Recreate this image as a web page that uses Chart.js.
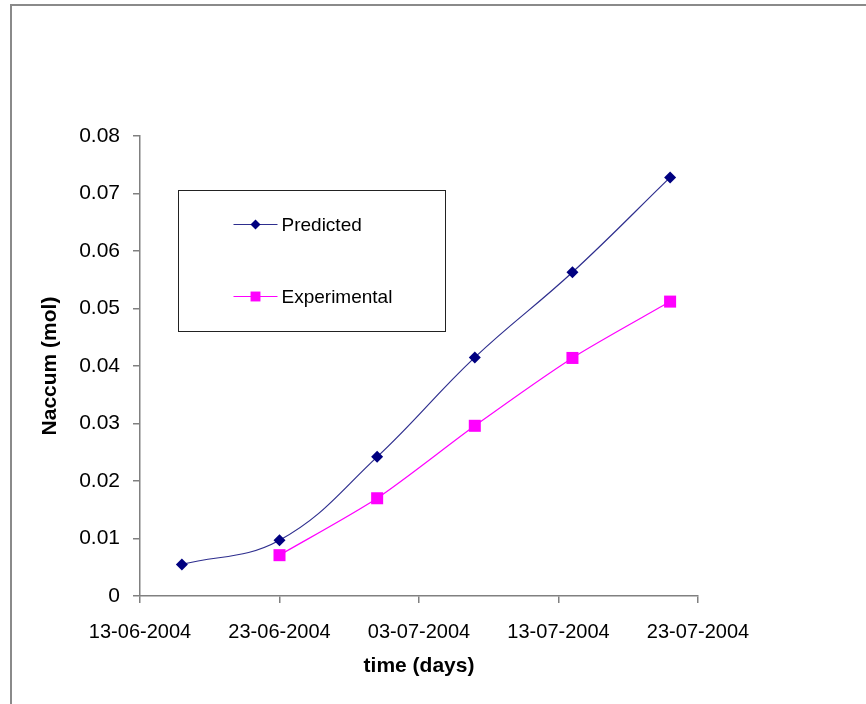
<!DOCTYPE html>
<html><head><meta charset="utf-8">
<script src="https://cdn.jsdelivr.net/npm/chart.js@4/dist/chart.umd.min.js"></script>
<style>html,body{margin:0;padding:0;background:#fff}#wrap{width:866px;height:704px;position:relative}</style>
</head><body><div id="wrap"><canvas id="c" width="866" height="704"></canvas></div>
<script>
const startDate = '2004-06-13';
const predictedDates = ['2004-06-16','2004-06-23','2004-06-30','2004-07-07','2004-07-14','2004-07-21'];
const predictedValues = [0.0055, 0.0097, 0.0242, 0.0415, 0.0563, 0.0728];
const experimentalDates = ['2004-06-23','2004-06-30','2004-07-07','2004-07-14','2004-07-21'];
const experimentalValues = [0.0071, 0.0170, 0.0296, 0.0414, 0.0512];
const xTickLabels = ['13-06-2004','23-06-2004','03-07-2004','13-07-2004','23-07-2004'];
const yTickLabels = ['0','0.01','0.02','0.03','0.04','0.05','0.06','0.07','0.08'];
const seriesNames = ['Predicted','Experimental'];

function dayOffset(d){ return (Date.parse(d+'T00:00:00Z') - Date.parse(startDate+'T00:00:00Z'))/86400000; }
function pts(dates, vals){ return dates.map((d,i)=>({x:dayOffset(d), y:vals[i]})); }

const FONT = "'Liberation Sans', Arial, sans-serif";

function drawMarker(ctx, style, x, y, r, color){
  ctx.save(); ctx.fillStyle = color; ctx.beginPath();
  if (style === 'rectRot'){ ctx.moveTo(x, y-r); ctx.lineTo(x+r, y); ctx.lineTo(x, y+r); ctx.lineTo(x-r, y); ctx.closePath(); }
  else { const s = r*Math.SQRT1_2; ctx.rect(x-s, y-s, 2*s, 2*s); }
  ctx.fill(); ctx.restore();
}

const framePlugin = {
  id:'frame',
  beforeDraw(chart){
    const ctx = chart.ctx;
    ctx.save(); ctx.fillStyle='#fff'; ctx.fillRect(0,0,chart.width,chart.height);
    ctx.strokeStyle='#8a8a8a'; ctx.lineWidth=2;
    ctx.beginPath(); ctx.moveTo(11, chart.height); ctx.lineTo(11,5); ctx.lineTo(chart.width,5); ctx.stroke();
    ctx.restore();
  },
  afterDraw(chart){
    const ctx = chart.ctx, ca = chart.chartArea;
    const bx = ca.left + 38.5, by = ca.top + 54.5, bw = 267, bh = 141;
    ctx.save();
    ctx.strokeStyle = '#222'; ctx.lineWidth = 1;
    ctx.strokeRect(bx, by, bw, bh);
    const rows = [by + 34, by + 106];
    chart.data.datasets.forEach((ds, i) => {
      const y = rows[i];
      ctx.strokeStyle = ds.borderColor; ctx.lineWidth = ds.borderWidth;
      ctx.beginPath(); ctx.moveTo(bx + 55, y); ctx.lineTo(bx + 99, y); ctx.stroke();
      drawMarker(ctx, ds.pointStyle, bx + 77, y, ds.pointStyle === 'rectRot' ? 5 : 7, ds.pointBackgroundColor);
      ctx.fillStyle = '#000'; ctx.font = '19px ' + FONT; ctx.textBaseline = 'middle'; ctx.textAlign = 'left';
      ctx.fillText(ds.label, bx + 103, y + 1);
    });
    ctx.restore();
  }
};

new Chart(document.getElementById('c'), {
  type: 'line',
  data: {
    datasets: [
      { label: seriesNames[0], data: pts(predictedDates, predictedValues),
        borderColor: '#2e2e8e', borderWidth: 1.2, tension: 0.4,
        pointStyle: 'rectRot', pointRadius: 6, pointBackgroundColor: '#000080', pointBorderColor: '#000080', pointBorderWidth: 0 },
      { label: seriesNames[1], data: pts(experimentalDates, experimentalValues),
        borderColor: '#ff00ff', borderWidth: 1.2, tension: 0.25,
        pointStyle: 'rect', pointRadius: 8.5, pointBackgroundColor: '#ff00ff', pointBorderColor: '#ff00ff', pointBorderWidth: 0 }
    ]
  },
  options: {
    responsive: false, animation: false, devicePixelRatio: 1,
    layout: { padding: { top: 136, right: 168, left: 0, bottom: 0 } },
    plugins: { legend: { display: false }, tooltip: { enabled: false } },
    scales: {
      x: {
        type: 'linear', min: 0, max: 40,
        afterFit(s){ s.height = 108; },
        ticks: { stepSize: 10, autoSkip: false, maxRotation: 0, padding: 17, color: '#000',
          font: { family: FONT, size: 20 },
          callback: (v) => xTickLabels[Math.round(v/10)] },
        grid: { drawOnChartArea: false, drawTicks: true, tickLength: 7, color: '#808080', lineWidth: 1.5 },
        border: { display: true, color: '#808080', width: 1.5 },
        title: { display: true, text: 'time (days)', color: '#000', font: { family: FONT, size: 21, weight: 'bold' }, padding: { top: 25, bottom: 25 } }
      },
      y: {
        min: 0, max: 0.08,
        afterFit(s){ s.width = 140; },
        ticks: { stepSize: 0.01, padding: 13, color: '#000', font: { family: FONT, size: 21 },
          callback: (v) => yTickLabels[Math.round(v/0.01)] },
        grid: { drawOnChartArea: false, drawTicks: true, tickLength: 7, color: '#808080', lineWidth: 1.5 },
        border: { display: true, color: '#808080', width: 1.5 },
        title: { display: true, text: 'Naccum (mol)', color: '#000', font: { family: FONT, size: 21, weight: 'bold' }, padding: { top: 38, bottom: 38 } }
      }
    }
  },
  plugins: [framePlugin]
});
</script></body></html>
